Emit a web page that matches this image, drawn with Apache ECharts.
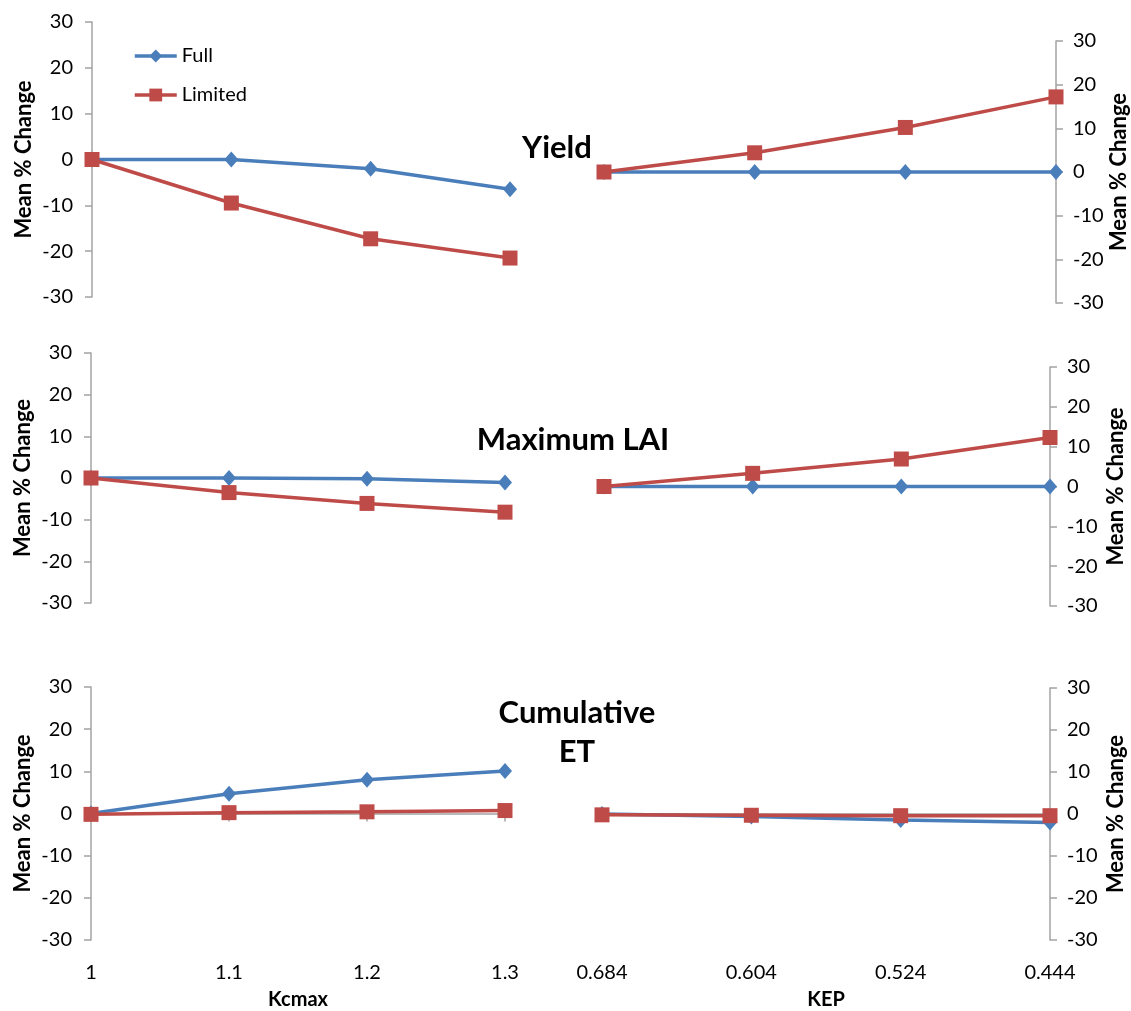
<!DOCTYPE html>
<html>
<head>
<meta charset="utf-8">
<title>Mean % Change — Kcmax and KEP</title>
<script src="https://cdn.jsdelivr.net/npm/echarts@6/dist/echarts.min.js"></script>
<style>
  html, body { margin: 0; padding: 0; background: #fff; }
  #chart { width: 1131px; height: 1011px; }
</style>
</head>
<body>
<div id="chart"></div>
<script>
// Categories for the two sensitivity parameters
const kcmaxCats = ['1', '1.1', '1.2', '1.3'];
const kepCats = ['0.684', '0.604', '0.524', '0.444'];

// Yield
const yieldKcmaxFull = [0, 0, -2.0, -6.5];
const yieldKcmaxLimited = [0, -9.5, -17.3, -21.5];
const yieldKepFull = [0, 0, 0, 0];
const yieldKepLimited = [0, 4.4, 10.2, 17.2];

// Maximum LAI
const laiKcmaxFull = [0, 0, -0.2, -1.1];
const laiKcmaxLimited = [0, -3.5, -6.1, -8.2];
const laiKepFull = [0, 0, 0, 0];
const laiKepLimited = [0, 3.3, 6.9, 12.3];

// Cumulative ET
const etKcmaxFull = [0, 4.7, 8.0, 10.1];
const etKcmaxLimited = [-0.2, 0.2, 0.4, 0.7];
const etKepFull = [0, -0.6, -1.4, -2.0];
const etKepLimited = [-0.2, -0.3, -0.4, -0.4];

// Y axis tick range
const yMin = -30, yMax = 30, yStep = 10;

const FONT = 'Lato, "Open Sans", sans-serif';
const BLUE = '#4A7EBB';
const RED = '#BE4B48';
const AXIS_GREY = '#A3A3A3';

// Plot rectangles (left, right, top, bottom in page pixels) and name offsets
const panels = [
  { l: 92,  r: 510,  t: 22,  b: 297, side: 'left',  nameGap: 57, cats: kcmaxCats, full: yieldKcmaxFull, lim: yieldKcmaxLimited, bottomRow: false },
  { l: 604, r: 1057, t: 41,  b: 303, side: 'right', nameGap: 52, cats: kepCats,   full: yieldKepFull,   lim: yieldKepLimited,   bottomRow: false },
  { l: 91,  r: 505,  t: 353, b: 603, side: 'left',  nameGap: 57, cats: kcmaxCats, full: laiKcmaxFull,   lim: laiKcmaxLimited,   bottomRow: false },
  { l: 604, r: 1050, t: 367, b: 606, side: 'right', nameGap: 55, cats: kepCats,   full: laiKepFull,     lim: laiKepLimited,     bottomRow: false },
  { l: 91,  r: 505,  t: 687, b: 945, side: 'left',  nameGap: 57, cats: kcmaxCats, full: etKcmaxFull,    lim: etKcmaxLimited,    bottomRow: true, xName: 'Kcmax' },
  { l: 602, r: 1050, t: 688, b: 949, side: 'right', nameGap: 55, cats: kepCats,   full: etKepFull,      lim: etKepLimited,      bottomRow: true, xName: 'KEP' }
];

const W = 1131, H = 1011;
const grid = [], xAxis = [], yAxis = [], series = [];

panels.forEach((p, i) => {
  grid.push({ left: p.l, top: p.t, width: p.r - p.l, height: p.b - p.t, containLabel: false });

  xAxis.push({
    type: 'category',
    gridIndex: i,
    data: p.cats,
    boundaryGap: false,
    show: p.bottomRow,
    axisLine: { show: p.bottomRow, lineStyle: { color: AXIS_GREY, width: 1.5 } },
    axisTick: { show: p.bottomRow, length: 8, lineStyle: { color: AXIS_GREY, width: 1.5 } },
    axisLabel: { show: p.bottomRow, color: '#000', fontSize: 20, fontFamily: FONT, margin: 23 },
    splitLine: { show: false },
    name: p.xName || '',
    nameLocation: 'middle',
    nameGap: 50,
    nameTextStyle: { color: '#000', fontSize: 20, fontWeight: 'bold', fontFamily: FONT }
  });

  yAxis.push({
    type: 'value',
    gridIndex: i,
    position: p.side,
    min: yMin,
    max: yMax,
    interval: yStep,
    axisLine: { show: true, lineStyle: { color: AXIS_GREY, width: 1.5 } },
    axisTick: { show: true, length: 7, lineStyle: { color: AXIS_GREY, width: 1.5 } },
    axisLabel: { color: '#000', fontSize: 20, fontFamily: FONT, margin: p.side === 'left' ? 19 : 17 },
    splitLine: { show: false },
    name: 'Mean % Change',
    nameLocation: 'middle',
    nameRotate: 90,
    nameGap: p.nameGap,
    nameTextStyle: { color: '#000', fontSize: 22, fontWeight: 'bold', fontFamily: FONT }
  });

  series.push({
    name: 'Full',
    type: 'line',
    xAxisIndex: i,
    yAxisIndex: i,
    data: p.full,
    clip: false,
    symbol: 'diamond',
    symbolSize: [14, 16],
    lineStyle: { color: BLUE, width: 3.5 },
    itemStyle: { color: BLUE },
    z: 2
  });
  series.push({
    name: 'Limited',
    type: 'line',
    xAxisIndex: i,
    yAxisIndex: i,
    data: p.lim,
    clip: false,
    symbol: 'rect',
    symbolSize: 15,
    lineStyle: { color: RED, width: 3.5 },
    itemStyle: { color: RED },
    z: 3
  });
});

const titleFont = 'bold 31px ' + FONT;
const option = {
  animation: false,
  backgroundColor: '#fff',
  grid, xAxis, yAxis, series,
  legend: {
    data: ['Full', 'Limited'],
    orient: 'vertical',
    left: 128,
    top: 41,
    itemWidth: 42,
    itemHeight: 16,
    itemGap: 19,
    lineStyle: { width: 3.5 },
    textStyle: { color: '#000', fontSize: 20, fontFamily: FONT }
  },
  graphic: [
    { type: 'text', style: { text: 'Yield', x: 557, y: 148, textAlign: 'center', textVerticalAlign: 'middle', font: titleFont, fill: '#000' } },
    { type: 'text', style: { text: 'Maximum LAI', x: 573, y: 440, textAlign: 'center', textVerticalAlign: 'middle', font: titleFont, fill: '#000' } },
    { type: 'text', style: { text: 'Cumulative', x: 577, y: 713, textAlign: 'center', textVerticalAlign: 'middle', font: titleFont, fill: '#000' } },
    { type: 'text', style: { text: 'ET', x: 577, y: 752, textAlign: 'center', textVerticalAlign: 'middle', font: titleFont, fill: '#000' } }
  ]
};

const chart = echarts.init(document.getElementById('chart'), null, { renderer: 'canvas', width: W, height: H });
chart.setOption(option);
</script>
</body>
</html>
